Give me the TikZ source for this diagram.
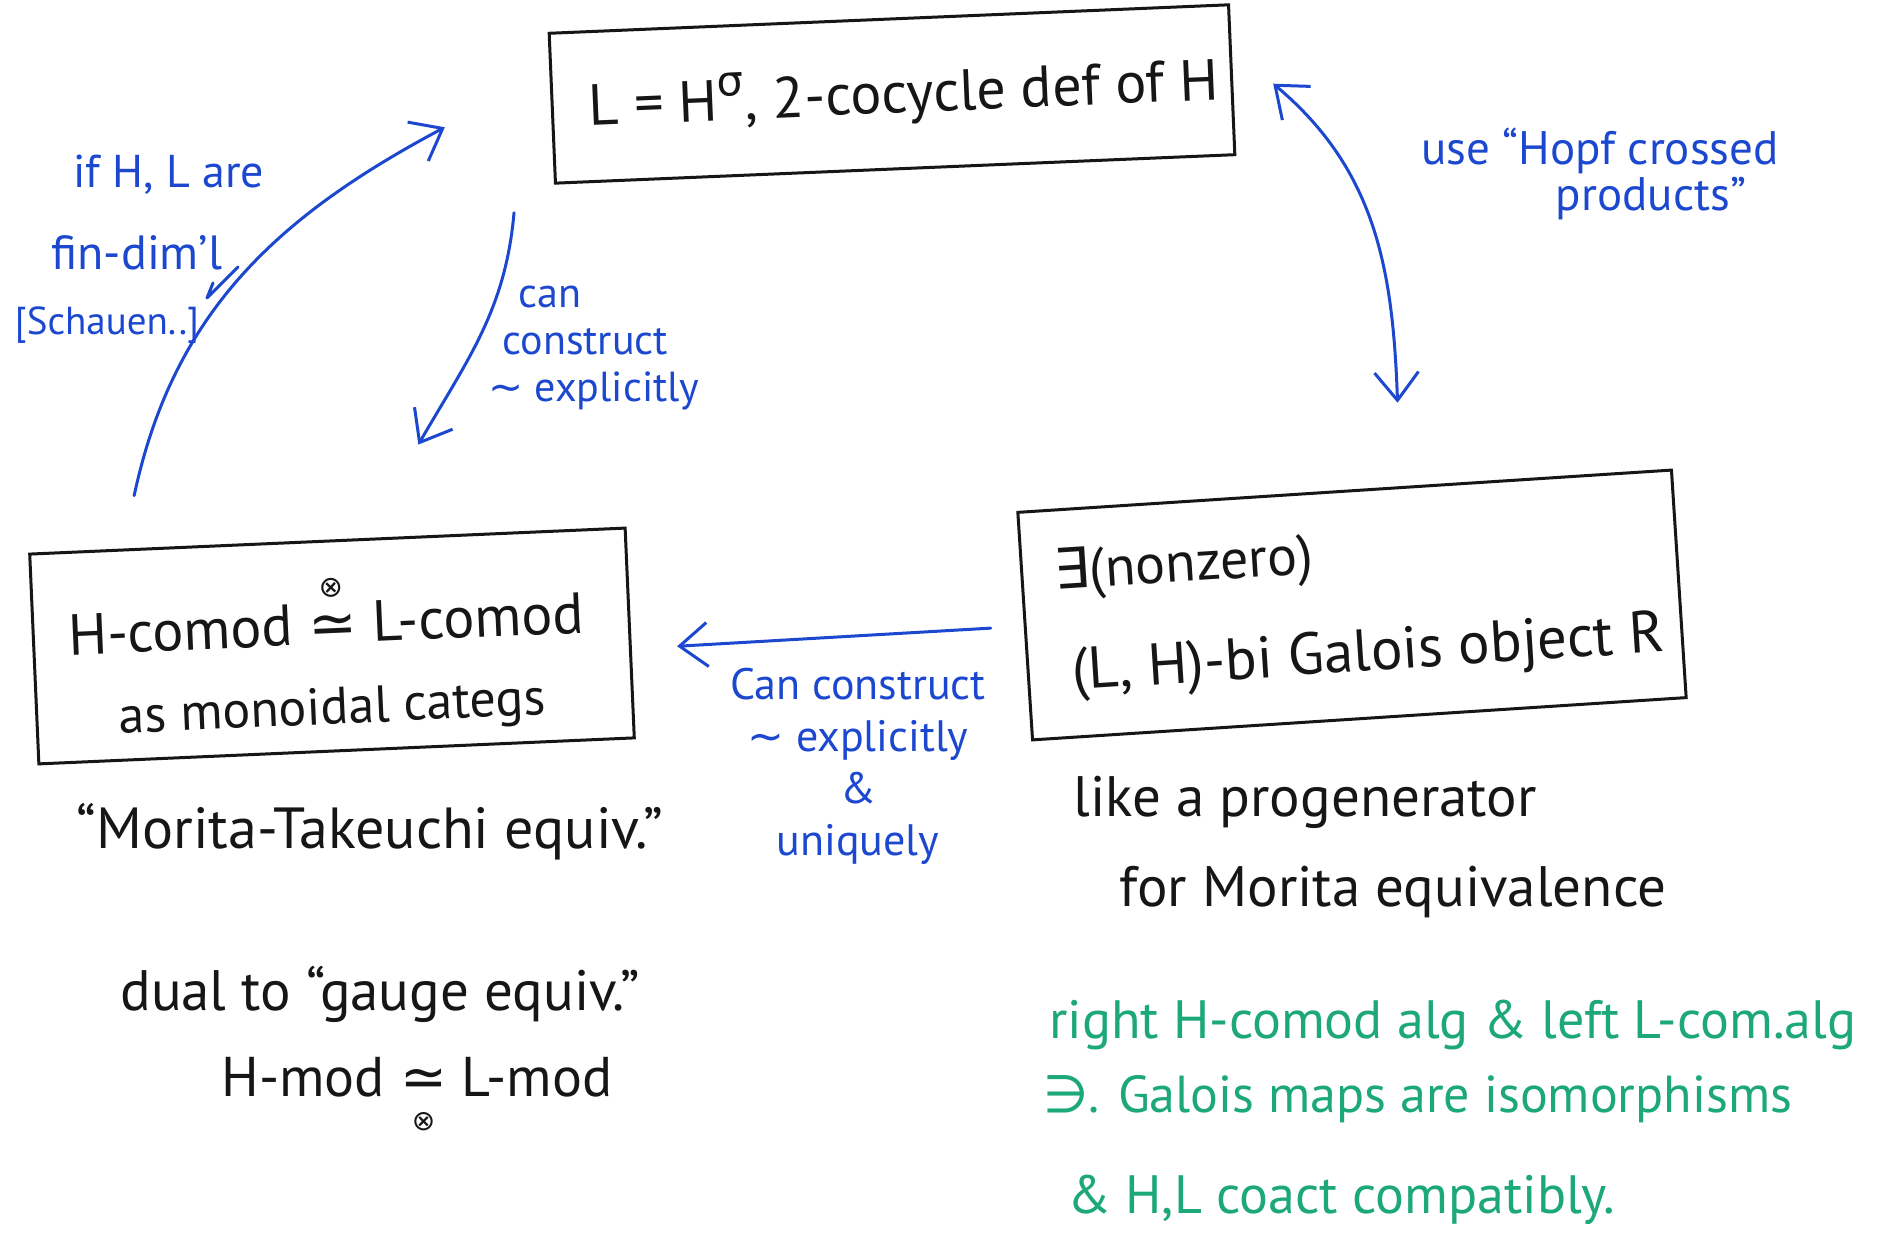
\documentclass[tikz,border=0pt]{standalone}
\usepackage{graphicx}
\usepackage{fontspec}
\setmainfont{PT Sans}
\newfontfamily\symf{DejaVu Sans}
\usetikzlibrary{arrows.meta}
\definecolor{inkblue}{RGB}{28,72,208}
\definecolor{inkgreen}{RGB}{28,168,122}
\definecolor{ink}{RGB}{22,22,22}
\newcommand{\fsz}[1]{\fontsize{#1}{#1}\selectfont}
\newcommand{\isoup}{\ooalign{{\symf ≃}\cr\hidewidth\raisebox{0.8em}{\scalebox{0.5}{\symf ⊗}}\hidewidth\cr}}
\newcommand{\isodown}{\ooalign{{\symf ≃}\cr\hidewidth\raisebox{-0.6em}{\scalebox{0.5}{\symf ⊗}}\hidewidth\cr}}
\tikzset{
  >={Straight Barb[length=28pt,width=44pt]},
  box/.style={draw=ink, line width=3pt, inner sep=0pt},
  blk/.style={text=ink, inner sep=0pt},
  bl/.style={text=inkblue, inner sep=0pt},
  gr/.style={text=inkgreen, inner sep=0pt, anchor=west},
  barrow/.style={draw=inkblue, line width=3pt, line cap=round, ->},
}
\begin{document}
\begin{tikzpicture}[x=1pt,y=1pt]
\fill[white] (0,0) rectangle (1890,1242);
\useasboundingbox (0,0) rectangle (1890,1242);

% boxes
\node[box, rotate=2.4, minimum width=680pt, minimum height=150pt] (top) at (892,1148) {};
\node[box, rotate=2.5, minimum width=596pt, minimum height=210pt] (lbox) at (332,596) {};
\node[box, rotate=3.7, minimum width=655pt, minimum height=228pt] (rbox) at (1352,637) {};

% box texts
\node[blk, rotate=2.4, font=\fsz{58}] (toptxt) at (904,1147)
  {L = H\raisebox{0.42em}{\fsz{42}\symf σ}, 2-cocycle def of H};
\node[blk, rotate=2.5, anchor=base, font=\fsz{58}] (ltxt1) at (327,598) {H-comod \isoup{} L-comod};
\node[blk, rotate=2.5, anchor=base, font=\fsz{52}] (ltxt2) at (333,518) {as monoidal categs};
\node[blk, rotate=3.7, anchor=base west, font=\fsz{56}] (rtxt1) at (1055,652) {{\symf ∃}(nonzero)};
\node[blk, rotate=3.7, anchor=base west, font=\fsz{59}] (rtxt2) at (1073,552) {(L, H)-bi Galois object R};

% black annotations
\node[blk, font=\fsz{58}] (mt) at (370,410) {“Morita-Takeuchi equiv.”};
\node[blk, font=\fsz{57}] (dual) at (380,248) {dual to “gauge equiv.”};
\node[blk, font=\fsz{56}, anchor=base] (hmod) at (417,145) {H-mod \isodown{} L-mod};
\node[blk, font=\fsz{57}] (prog) at (1305,440) {like a progenerator};
\node[blk, font=\fsz{57}] (fmor) at (1393,350) {for Morita equivalence};

% green annotations
\node[gr, font=\fsz{54}] (g1) at (1049,217) {right H-comod alg \& left L-com.alg};
\node[gr, font=\fsz{52}] (g2) at (1043,143) {{\symf ∋}. Galois maps are isomorphisms};
\node[gr, font=\fsz{54}] (g3) at (1067,42) {\& H,L coact compatibly.};

% blue labels
\node[bl, font=\fsz{46}] (ifhl) at (169,1067) {if H, L are};
\node[bl, font=\fsz{48}] (fin) at (137,989) {fin-dim'l};
\node[bl, font=\fsz{39}] (sch) at (107,917) {[Schauen..]};
\draw[inkblue, line width=3pt, line cap=round, line join=round] (213,959) -- (207,944) -- (238,975);
\node[bl, align=left, font=\fontsize{42}{47}\selectfont] (cc) at (594,894)
  {\hspace*{30pt}can\\\hspace*{14pt}construct\\{\symf ∼} explicitly};
\node[bl, font=\fsz{47}] (hopf1) at (1600,1091) {use “Hopf crossed};
\node[bl, font=\fsz{47}] (hopf2) at (1651,1043) {products”};
\node[bl, align=center, font=\fontsize{44}{52}\selectfont] (cu) at (858,476)
  {Can construct\\{\symf ∼} explicitly\\\&\\uniquely};

% arrows
\draw[barrow] ([shift={(106,57)}]lbox.north west) to[out=78,in=208] ([shift={(-106,-19)}]top.west);
\draw[barrow] ([shift={(-40,-28)}]top.south west) to[out=-95,in=60] ([shift={(91,95)}]lbox.north);
\draw[barrow, <->] ([shift={(40,-4)}]top.east) to[out=-40,in=92] ([shift={(53,87)}]rbox.north);
\draw[barrow, shorten <=33pt, shorten >=46pt] (rbox.west) -- ([yshift=-16pt]lbox.east);
\end{tikzpicture}
\end{document}
